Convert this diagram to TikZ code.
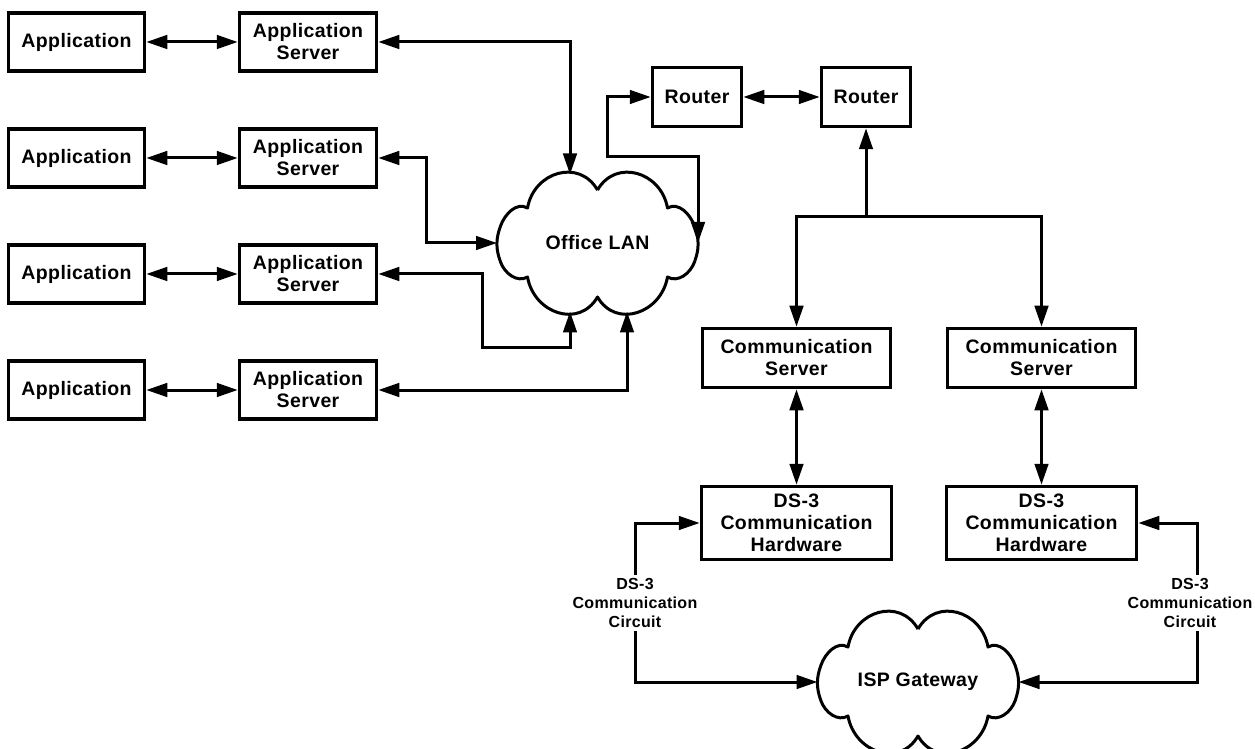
\documentclass[tikz,border=0pt]{standalone}
\usepackage{fontspec}
\setmainfont{Liberation Sans}[LetterSpace=2]
\usetikzlibrary{arrows.meta}

% outline of a cloud, drawn round (0,0)
\newcommand{\cloudoutline}{%
  (0,53) to[out=60,in=100,looseness=1.3] (70,35)
  to[out=30,in=110] (97,17)
  to[out=-70,in=70] (97,-19)
  to[out=-110,in=-30] (70,-34)
  to[out=-100,in=-60,looseness=1.3] (0,-54)
  to[out=-120,in=-80,looseness=1.3] (-70,-34)
  to[out=-150,in=-70] (-97,-19)
  to[out=110,in=-110] (-97,17)
  to[out=70,in=150] (-70,35)
  to[out=80,in=120,looseness=1.3] (0,53)}

\begin{document}
\begin{tikzpicture}[x=1pt, y=1pt, line width=3pt,
  every node/.style={font=\bfseries\fontsize{19.5}{22}\selectfont}]
  \tikzset{
    box/.style={draw, line width=3.5pt, align=center, inner sep=0pt, minimum height=58pt},
    appbox/.style={box, minimum width=136pt},
    srvbox/.style={box, minimum width=137pt},
    rtbox/.style={box, minimum width=89pt, minimum height=59pt},
    csbox/.style={box, minimum width=188pt, minimum height=59pt},
    hwbox/.style={box, minimum width=190pt, minimum height=73pt},
    netcloud/.style={inner sep=0pt, outer sep=0pt, minimum width=201pt, minimum height=137pt},
    cloudline/.style={draw, line width=3pt, line join=round},
    circlabel/.style={align=center, fill=white, inner sep=2pt, font=\bfseries\fontsize{16}{19}\selectfont},
    arr/.style={-{Triangle[length=21pt, width=13.5pt]}},
    dbl/.style={{Triangle[length=21pt, width=13.5pt]}-{Triangle[length=21pt, width=13.5pt]}}
  }
  \useasboundingbox (0,0) rectangle (1255,748);

  % Applications and their servers
  \node[appbox] (app1) at (76.5,706) {Application};
  \node[srvbox] (srv1) at (308,706)  {Application\\Server};
  \node[appbox] (app2) at (76.5,590) {Application};
  \node[srvbox] (srv2) at (308,590)  {Application\\Server};
  \node[appbox] (app3) at (76.5,474) {Application};
  \node[srvbox] (srv3) at (308,474)  {Application\\Server};
  \node[appbox] (app4) at (76.5,358) {Application};
  \node[srvbox] (srv4) at (308,358)  {Application\\Server};

  % Office LAN
  \node[netcloud] (lan) at (597.5,505) {Office LAN};
  \draw[cloudline, shift={(lan.center)}] \cloudoutline;

  % Routers
  \node[rtbox] (rt1) at (697,651) {Router};
  \node[rtbox] (rt2) at (866,651) {Router};

  % Communication servers and hardware
  \node[csbox] (cs1) at (796.5,390)  {Communication\\Server};
  \node[csbox] (cs2) at (1041.5,390) {Communication\\Server};
  \node[hwbox] (hw1) at (796.5,225)  {DS-3\\Communication\\Hardware};
  \node[hwbox] (hw2) at (1041.5,225) {DS-3\\Communication\\Hardware};

  % ISP Gateway
  \node[netcloud] (isp) at (918,66) {ISP Gateway};
  \draw[cloudline, shift={(isp.center)}] \cloudoutline;

  % circuit labels
  \node[circlabel] (ckt1) at (635,145)  {DS-3\\Communication\\Circuit};
  \node[circlabel] (ckt2) at (1190,145) {DS-3\\Communication\\Circuit};
  \coordinate (jn) at (866,531);

  % connectors
  \foreach \i in {1,...,4} \draw[dbl] (app\i) -- (srv\i);
  \draw[dbl] (srv1.east) -| ([xshift=-27.5pt]lan.north);
  \draw[dbl] (srv2.east) -- ++(48,0) |- (lan.west);
  \draw[dbl] (srv3.east) -- ++(104,0) -- ++(0,-74) -| ([xshift=-27.5pt]lan.south);
  \draw[dbl] (srv4.east) -| ([xshift=29.5pt]lan.south);
  \draw[dbl] (rt1.west) -- ++(-43,0) -- ++(0,-60) -| (lan.east);
  \draw[dbl] (rt1) -- (rt2);
  \draw[arr] (jn) -- (rt2.south);
  \draw[arr] (jn) -| (cs1.north);
  \draw[arr] (jn) -| (cs2.north);
  \draw[dbl] (cs1) -- (hw1);
  \draw[dbl] (cs2) -- (hw2);
  \draw[arr] (ckt1.north) |- (hw1.west);
  \draw[arr] (ckt1.south) |- (isp.west);
  \draw[arr] ([xshift=7pt]ckt2.north) |- (hw2.east);
  \draw[arr] ([xshift=7pt]ckt2.south) |- (isp.east);
\end{tikzpicture}
\end{document}
